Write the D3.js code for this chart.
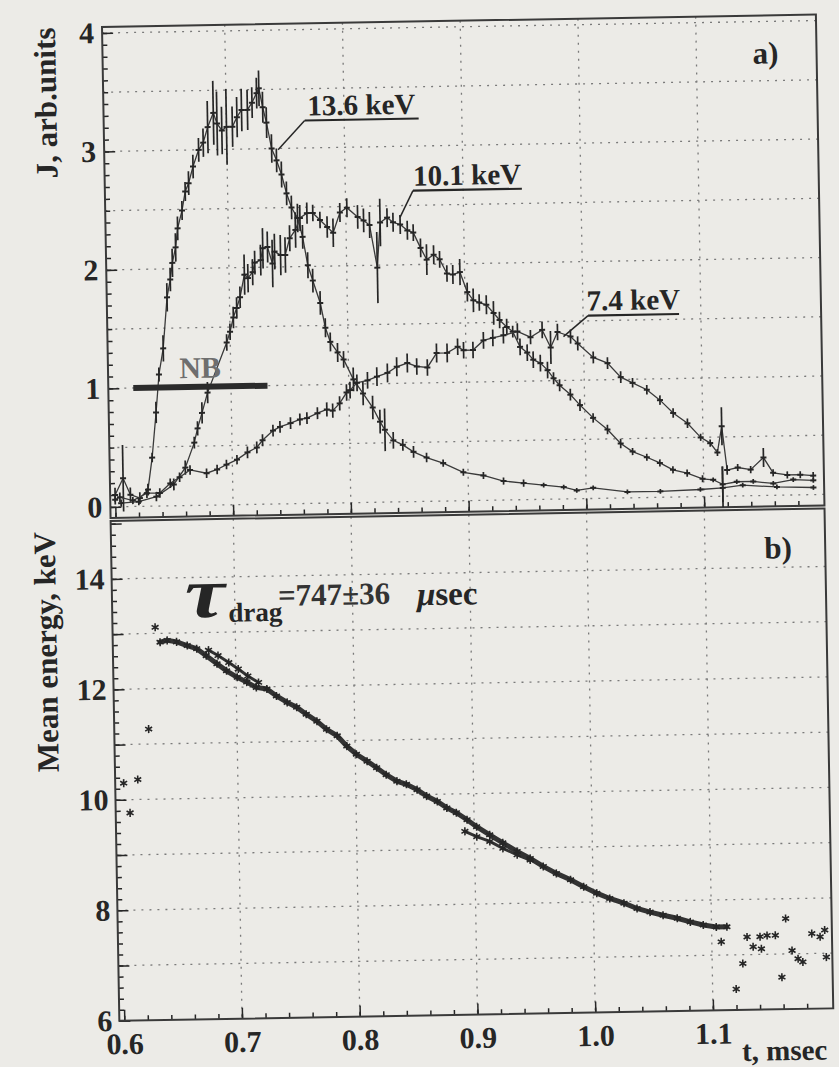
<!DOCTYPE html>
<html>
<head>
<meta charset="utf-8">
<script src="https://cdn.jsdelivr.net/npm/d3@7"></script>
<style>
  body { margin: 0; background: #ecebe7; }
  svg { display: block; }
  text { font-family: "Liberation Serif", "Times New Roman", serif; }
</style>
</head>
<body>
<script>
// ---- panel a : J(t) for the three energy channels (t in msec, J in arb. units) ----
const t136 = [0.600,0.607,0.613,0.621,0.628,0.632,0.636,0.639,0.643,0.647,0.650,0.652,0.655,0.657,0.661,0.664,0.667,0.671,0.676,0.680,0.684,0.689,0.692,0.696,0.700,0.705,0.709,0.713,0.718,0.722,0.726,0.728,0.731,0.734,0.738,0.742,0.746,0.750,0.754,0.759,0.763,0.767,0.771,0.777,0.781,0.785,0.791,0.796,0.804,0.812,0.820,0.826,0.830,0.837,0.845,0.854,0.865,0.879,0.896,0.913,0.930,0.947,0.964,0.981,0.992,1.006,1.035,1.063,1.097,1.116,1.133,1.162,1.193];
const J136 = [0.10,0.24,0.10,0.07,0.14,0.41,0.79,1.11,1.33,1.76,1.91,2.05,2.18,2.34,2.49,2.65,2.72,2.86,3.00,3.06,3.19,3.31,3.22,3.16,3.19,3.19,3.27,3.33,3.33,3.39,3.47,3.51,3.35,3.22,3.00,2.90,2.78,2.62,2.50,2.41,2.25,2.01,1.88,1.69,1.48,1.36,1.27,1.21,1.04,0.92,0.80,0.68,0.61,0.52,0.48,0.42,0.37,0.32,0.24,0.21,0.16,0.14,0.12,0.10,0.07,0.09,0.05,0.05,0.06,0.07,0.09,0.07,0.06];
const e136 = [0.06,0.28,0.06,0.05,0.05,0.04,0.09,0.06,0.11,0.12,0.10,0.12,0.12,0.10,0.08,0.08,0.10,0.10,0.10,0.12,0.22,0.27,0.27,0.20,0.32,0.17,0.17,0.18,0.17,0.13,0.13,0.15,0.13,0.13,0.12,0.10,0.11,0.10,0.10,0.12,0.10,0.11,0.10,0.10,0.08,0.08,0.08,0.07,0.10,0.10,0.10,0.10,0.18,0.07,0.05,0.05,0.04,0.03,0.03,0.03,0.03,0.03,0.02,0.02,0.02,0.02,0.02,0.02,0.02,0.18,0.02,0.02,0.02];

const t101 = [0.605,0.620,0.635,0.650,0.660,0.668,0.671,0.675,0.680,0.697,0.700,0.703,0.706,0.709,0.713,0.716,0.720,0.722,0.727,0.729,0.733,0.737,0.739,0.744,0.748,0.752,0.757,0.761,0.767,0.772,0.778,0.784,0.789,0.795,0.801,0.810,0.815,0.820,0.826,0.829,0.835,0.840,0.846,0.852,0.857,0.863,0.868,0.874,0.879,0.885,0.890,0.896,0.902,0.907,0.912,0.918,0.924,0.929,0.935,0.940,0.946,0.952,0.957,0.963,0.969,0.974,0.979,0.988,0.996,1.007,1.019,1.030,1.040,1.052,1.063,1.074,1.086,1.099,1.108,1.116,1.128,1.142,1.159,1.176,1.193];
const J101 = [0.03,0.04,0.08,0.18,0.32,0.53,0.65,0.78,0.95,1.37,1.46,1.58,1.66,1.75,1.94,1.91,1.96,2.04,2.06,2.16,2.17,2.03,2.13,2.10,2.10,2.24,2.31,2.41,2.45,2.45,2.39,2.33,2.28,2.45,2.49,2.41,2.38,2.34,1.98,2.36,2.40,2.36,2.34,2.29,2.27,2.14,2.04,2.08,2.04,1.92,1.91,1.93,1.76,1.69,1.67,1.65,1.58,1.52,1.46,1.42,1.29,1.24,1.18,1.15,1.09,1.02,0.96,0.88,0.79,0.68,0.58,0.46,0.39,0.34,0.29,0.23,0.20,0.15,0.14,0.10,0.12,0.12,0.10,0.13,0.12];
const e101 = [0.03,0.03,0.04,0.05,0.06,0.05,0.06,0.09,0.09,0.07,0.07,0.09,0.09,0.09,0.17,0.12,0.11,0.10,0.13,0.17,0.13,0.20,0.15,0.17,0.15,0.11,0.15,0.11,0.09,0.07,0.07,0.09,0.12,0.08,0.08,0.10,0.10,0.11,0.30,0.20,0.08,0.08,0.08,0.08,0.07,0.08,0.13,0.08,0.07,0.07,0.08,0.11,0.08,0.10,0.07,0.08,0.10,0.07,0.07,0.05,0.07,0.07,0.07,0.07,0.07,0.05,0.05,0.05,0.05,0.04,0.04,0.04,0.03,0.03,0.03,0.03,0.03,0.03,0.02,0.15,0.02,0.02,0.02,0.02,0.02];

const t74 = [0.600,0.604,0.615,0.627,0.638,0.647,0.655,0.664,0.678,0.687,0.695,0.704,0.713,0.721,0.726,0.735,0.741,0.750,0.758,0.764,0.773,0.781,0.786,0.792,0.798,0.801,0.807,0.816,0.824,0.833,0.841,0.850,0.858,0.867,0.875,0.884,0.893,0.898,0.906,0.915,0.923,0.932,0.944,0.955,0.965,0.972,0.978,0.989,0.995,1.008,1.020,1.031,1.041,1.053,1.064,1.075,1.087,1.098,1.106,1.112,1.116,1.120,1.129,1.140,1.151,1.159,1.171,1.182,1.193];
const J74 = [0.06,0.08,0.05,0.11,0.11,0.19,0.24,0.30,0.27,0.30,0.34,0.38,0.44,0.48,0.54,0.62,0.65,0.68,0.71,0.72,0.76,0.79,0.78,0.84,0.93,0.95,1.01,1.03,1.06,1.09,1.14,1.17,1.14,1.13,1.25,1.25,1.30,1.27,1.27,1.35,1.37,1.39,1.42,1.37,1.43,1.28,1.41,1.37,1.31,1.19,1.14,1.02,0.97,0.91,0.82,0.71,0.62,0.50,0.45,0.37,0.59,0.22,0.24,0.22,0.32,0.19,0.17,0.17,0.16];
const e74 = [0.04,0.04,0.03,0.04,0.04,0.04,0.04,0.04,0.04,0.04,0.04,0.04,0.05,0.05,0.05,0.05,0.05,0.05,0.05,0.05,0.05,0.06,0.06,0.06,0.07,0.07,0.07,0.07,0.08,0.08,0.08,0.08,0.07,0.07,0.08,0.08,0.07,0.07,0.07,0.07,0.07,0.07,0.07,0.06,0.07,0.14,0.07,0.06,0.06,0.05,0.05,0.05,0.04,0.04,0.04,0.04,0.04,0.03,0.03,0.03,0.16,0.04,0.03,0.03,0.08,0.03,0.03,0.03,0.03];

// channel labels: underline start (t, J), underline end t, point the leader touches
const chanNames = ["13.6 keV", "10.1 keV", "7.4 keV"];
const chanLabelAt = [[0.7665, 3.232], [0.8574, 2.624], [1.0042, 1.544]];
const chanLabelEnd = [0.8633, 0.9499, 1.0815];
const chanLeaderTo = [[0.7435, 2.99], [0.846, 2.40], [0.983, 1.37]];

// neutral beam pulse
const nbSpan = [0.617, 0.731];
const nbLevel = 1.0;

// ---- panel b : mean energy (keV) ----
const tMean = [0.636,0.642,0.650,0.659,0.667,0.675,0.684,0.692,0.701,0.709,0.717,0.726,0.734,0.743,0.751,0.759,0.768,0.776,0.785,0.793,0.801,0.810,0.818,0.826,0.835,0.843,0.852,0.860,0.869,0.877,0.885,0.894,0.902,0.913,0.924,0.936,0.947,0.958,0.969,0.981,0.992,1.003,1.014,1.026,1.037,1.048,1.059,1.071,1.082,1.093,1.104,1.113];
const eMean = [12.84,12.87,12.84,12.77,12.71,12.58,12.43,12.30,12.18,12.09,11.99,11.96,11.83,11.71,11.62,11.49,11.36,11.21,11.09,10.90,10.75,10.62,10.50,10.37,10.25,10.19,10.09,9.97,9.87,9.75,9.66,9.53,9.40,9.25,9.10,8.94,8.81,8.66,8.53,8.41,8.28,8.16,8.06,7.97,7.87,7.80,7.74,7.68,7.61,7.55,7.51,7.51];
const tUpper = [0.677,0.685,0.694,0.702,0.710,0.719];
const eUpper = [12.68,12.58,12.45,12.33,12.20,12.08];
const tLower = [0.892,0.902,0.913,0.924,0.936,0.947];
const eLower = [9.32,9.22,9.13,9.00,8.88,8.78];
const tStray = [0.603,0.608,0.615,0.625,0.632,1.108,1.120,1.126,1.130,1.135,1.141,1.142,1.147,1.154,1.159,1.163,1.168,1.173,1.177,1.185,1.192,1.196,1.197];
const eStray = [10.30,9.76,10.36,11.27,13.11,7.24,6.38,6.84,7.32,7.14,7.32,7.10,7.34,7.34,6.58,7.64,7.06,6.91,6.85,7.36,7.30,7.42,6.93];

// ticks
const xTicks = [0.6, 0.7, 0.8, 0.9, 1.0, 1.1];
const jTicks = [0, 1, 2, 3, 4];
const eTicks = [6, 8, 10, 12, 14];

// ---- layout ----
const W = 839, H = 1067;
const left = 102, right = 816;
const topA = 27, botA = 518, topB = 521, botB = 1021;
const ink = "#262626";
const fontB = "bold";

const svg = d3.select("body").append("svg").attr("width", W).attr("height", H)
    .attr("font-family", "'Liberation Serif', 'Times New Roman', serif");
svg.append("rect").attr("width", W).attr("height", H).attr("fill", "#ecebe7");

// the scanned page is tilted by about one degree
const g = svg.append("g").attr("transform", "rotate(-1,101,27)");

const x = d3.scaleLinear().domain([0.5958, 1.2021]).range([left, right]);
const yA = d3.scaleLinear().domain([-0.093, 4.051]).range([botA, topA]);
const yB = d3.scaleLinear().domain([6, 15.05]).range([botB, topB]);

const defs = svg.append("defs");
defs.append("clipPath").attr("id", "clipA").append("rect")
    .attr("x", left).attr("y", topA).attr("width", right - left).attr("height", botA - topA);
defs.append("clipPath").attr("id", "clipB").append("rect")
    .attr("x", left).attr("y", topB).attr("width", right - left).attr("height", botB - topB);

// dotted grid
function grid(yScale, yVals, top, bot) {
    const gg = g.append("g").attr("stroke", "#7a7a7a").attr("stroke-width", 1.3).attr("stroke-dasharray", "2,6");
    gg.selectAll(".h").data(yVals).join("line")
        .attr("x1", left).attr("x2", right)
        .attr("y1", d => yScale(d)).attr("y2", d => yScale(d));
    gg.selectAll(".v").data(xTicks.slice(1)).join("line")
        .attr("x1", d => x(d)).attr("x2", d => x(d))
        .attr("y1", top).attr("y2", bot);
}
grid(yA, [0, 0.5, 1, 1.5, 2, 2.5, 3, 3.5, 4], topA, botA);
grid(yB, [7, 8, 9, 10, 11, 12, 13, 14], topB, botB);

// inward ticks
function inTicks(axis, tr) {
    g.append("g").attr("transform", tr).call(axis)
        .call(s => s.select(".domain").remove())
        .call(s => s.selectAll("line").attr("stroke", ink).attr("stroke-width", 1.5));
}
const xMinor = d3.range(30).map(i => 0.6 + i * 0.02);
[botA, botB].forEach(yy => {
    inTicks(d3.axisTop(x).tickValues(xMinor).tickSize(5).tickFormat(""), `translate(0,${yy})`);
    inTicks(d3.axisTop(x).tickValues(xTicks).tickSize(11).tickFormat(""), `translate(0,${yy})`);
});
inTicks(d3.axisRight(yA).tickValues(d3.range(41).map(i => i * 0.1)).tickSize(5).tickFormat(""), `translate(${left},0)`);
inTicks(d3.axisRight(yA).tickValues(jTicks).tickSize(11).tickFormat(""), `translate(${left},0)`);
inTicks(d3.axisRight(yB).tickValues(d3.range(46).map(i => 6 + i * 0.2)).tickSize(5).tickFormat(""), `translate(${left},0)`);
inTicks(d3.axisRight(yB).tickValues(d3.range(6, 16)).tickSize(11).tickFormat(""), `translate(${left},0)`);

// tick labels
function labels(axis, tr) {
    const a = g.append("g").attr("transform", tr).call(axis);
    a.select(".domain").remove();
    a.attr("font-family", null).attr("font-size", null);
    a.selectAll("text").attr("fill", ink).style("font-size", "30px").style("font-weight", fontB);
}
labels(d3.axisLeft(yA).tickValues(jTicks).tickSize(0).tickPadding(8).tickFormat(d3.format("d")), `translate(${left},0)`);
labels(d3.axisLeft(yB).tickValues(eTicks).tickSize(0).tickPadding(7).tickFormat(d3.format("d")), `translate(${left},0)`);
labels(d3.axisBottom(x).tickValues(xTicks).tickSize(0).tickPadding(12).tickFormat(d3.format(".1f")), `translate(0,${botB})`);

// frames
[[topA, botA], [topB, botB]].forEach(([t0, b0]) => {
    g.append("rect").attr("x", left).attr("y", t0).attr("width", right - left).attr("height", b0 - t0)
        .attr("fill", "none").attr("stroke", "#3a3a3a").attr("stroke-width", 2);
});

// axis titles
g.append("text").attr("transform", "translate(44,102) rotate(-90)")
    .attr("text-anchor", "middle").attr("dy", "0.35em")
    .style("font-size", "31px").style("font-weight", fontB).attr("fill", ink)
    .text("J, arb.units");
g.append("text").attr("transform", "translate(35,651) rotate(-90)")
    .attr("text-anchor", "middle").attr("dy", "0.35em")
    .style("font-size", "31px").style("font-weight", fontB).attr("fill", ink)
    .text("Mean energy, keV");
g.append("text").attr("x", 724).attr("y", 1072)
    .style("font-size", "29px").style("font-weight", fontB).attr("fill", ink)
    .text("t, msec");
g.append("text").attr("x", right - 51).attr("y", topA + 48).attr("text-anchor", "middle")
    .style("font-size", "31px").style("font-weight", fontB).attr("fill", ink).text("a)");
g.append("text").attr("x", right - 47).attr("y", topB + 49).attr("text-anchor", "middle")
    .style("font-size", "31px").style("font-weight", fontB).attr("fill", ink).text("b)");

// ---- panel a curves ----
const seriesA = [[t136, J136, e136], [t101, J101, e101], [t74, J74, e74]]
    .map(([ts, js, es]) => ts.map((t, i) => ({ t: t, J: js[i], e: es[i] })));
const pa = g.append("g").attr("clip-path", "url(#clipA)");
const lineA = d3.line().x(d => x(d.t)).y(d => yA(d.J));
seriesA.forEach(pts => {
    pa.append("path").datum(pts).attr("d", lineA)
        .attr("fill", "none").attr("stroke", "#3a3a3a").attr("stroke-width", 1.3);
    pa.append("g").selectAll("line").data(pts).join("line")
        .attr("x1", d => x(d.t)).attr("x2", d => x(d.t))
        .attr("y1", d => yA(d.J - d.e)).attr("y2", d => yA(d.J + d.e))
        .attr("stroke", ink).attr("stroke-width", 1.7);
    pa.append("g").selectAll("line").data(pts).join("line")
        .attr("x1", d => x(d.t) - 3).attr("x2", d => x(d.t) + 3)
        .attr("y1", d => yA(d.J)).attr("y2", d => yA(d.J))
        .attr("stroke", ink).attr("stroke-width", 2);
});

// channel labels with leaders
chanNames.forEach((name, i) => {
    const [t0, j0] = chanLabelAt[i];
    const x0 = x(t0), x1 = x(chanLabelEnd[i]), y0 = yA(j0);
    g.append("line").attr("x1", x0).attr("x2", x1).attr("y1", y0).attr("y2", y0)
        .attr("stroke", ink).attr("stroke-width", 2.2);
    g.append("line").attr("x1", x0).attr("y1", y0)
        .attr("x2", x(chanLeaderTo[i][0])).attr("y2", yA(chanLeaderTo[i][1]))
        .attr("stroke", ink).attr("stroke-width", 1.5);
    g.append("text").attr("x", (x0 + x1) / 2).attr("y", y0 - 5).attr("text-anchor", "middle")
        .style("font-size", "29px").style("font-weight", fontB).attr("fill", ink).text(name);
});

// NB bar
g.append("line").attr("x1", x(nbSpan[0])).attr("x2", x(nbSpan[1]))
    .attr("y1", yA(nbLevel)).attr("y2", yA(nbLevel))
    .attr("stroke", "#2b2b2b").attr("stroke-width", 6);
g.append("text").attr("x", x((nbSpan[0] + nbSpan[1]) / 2)).attr("y", yA(nbLevel) - 9)
    .attr("text-anchor", "middle")
    .style("font-size", "30px").style("font-weight", fontB).attr("fill", "#6e6e6e").text("NB");

// ---- panel b ----
const pb = g.append("g").attr("clip-path", "url(#clipB)");
const lineB = d3.line().x(d => x(d.t)).y(d => yB(d.E));
const star = d3.symbol().type(d3.symbolAsterisk || d3.symbolCross).size(45);
const toPts = (ts, es) => ts.map((t, i) => ({ t: t, E: es[i] }));
const mainPts = toPts(tMean, eMean), upPts = toPts(tUpper, eUpper), lowPts = toPts(tLower, eLower);
pb.append("path").datum(mainPts).attr("d", lineB).attr("fill", "none")
    .attr("stroke", "#333").attr("stroke-width", 5).attr("stroke-linecap", "round");
[upPts, lowPts].forEach(p => {
    pb.append("path").datum(p).attr("d", lineB).attr("fill", "none")
        .attr("stroke", "#333").attr("stroke-width", 3).attr("stroke-linecap", "round");
});
pb.append("g").selectAll("path")
    .data(mainPts.concat(upPts, lowPts, toPts(tStray, eStray)))
    .join("path")
    .attr("transform", d => `translate(${x(d.t)},${yB(d.E)})`)
    .attr("d", star)
    .attr("fill", "none").attr("stroke", ink).attr("stroke-width", 1.6);

// drag time annotation
const tauT = 0.6578, tauE = 13.28;
const tx = x(tauT), ty = yB(tauE);
g.append("text").attr("transform", `translate(${tx},${ty}) scale(1.25,1)`)
    .style("font-size", "72px").style("font-style", "italic").style("font-weight", fontB)
    .attr("fill", ink).text("τ");
g.append("text").attr("x", tx + 43).attr("y", ty + 5)
    .style("font-size", "27px").style("font-weight", fontB).attr("fill", ink).text("drag");
g.append("text").attr("x", tx + 93).attr("y", ty - 10)
    .style("font-size", "31px").style("font-weight", fontB).attr("fill", "#333").text("=747±36");
const mu = g.append("text").attr("x", tx + 232).attr("y", ty - 8)
    .style("font-size", "33px").style("font-weight", fontB).attr("fill", ink);
mu.append("tspan").style("font-style", "italic").text("μ");
mu.append("tspan").text("sec");
</script>
</body>
</html>
